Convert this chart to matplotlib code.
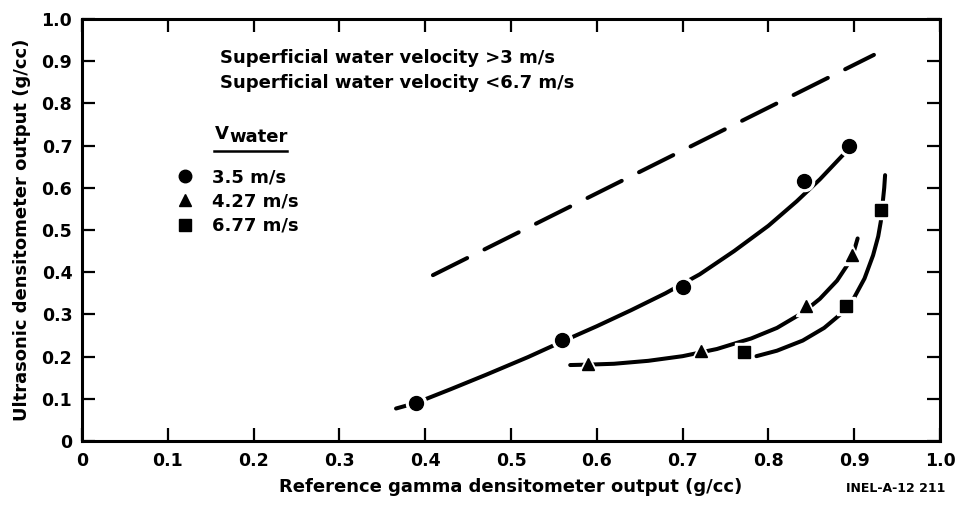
import matplotlib
matplotlib.use('Agg')
import matplotlib.pyplot as plt

circ_x = [0.389, 0.560, 0.700, 0.841, 0.894]
circ_y = [0.089, 0.239, 0.365, 0.617, 0.698]
tri_x = [0.590, 0.722, 0.844, 0.898]
tri_y = [0.183, 0.214, 0.320, 0.441]
sq_x = [0.771, 0.891, 0.931]
sq_y = [0.210, 0.320, 0.547]

# hand drawn curves through the points
circ_cx = [0.366, 0.389, 0.430, 0.471, 0.520, 0.560, 0.600, 0.640, 0.680, 0.720,
           0.760, 0.800, 0.833, 0.860, 0.887, 0.895]
circ_cy = [0.077, 0.090, 0.123, 0.157, 0.199, 0.236, 0.272, 0.310, 0.350, 0.395,
           0.450, 0.510, 0.568, 0.620, 0.678, 0.697]
tri_cx = [0.569, 0.590, 0.620, 0.660, 0.700, 0.740, 0.780, 0.810, 0.840, 0.860,
          0.880, 0.893, 0.900, 0.904]
tri_cy = [0.180, 0.181, 0.183, 0.190, 0.201, 0.218, 0.243, 0.268, 0.304, 0.337,
          0.380, 0.420, 0.452, 0.480]
sq_cx = [0.786, 0.810, 0.840, 0.865, 0.885, 0.900, 0.912, 0.922, 0.928, 0.931,
         0.933, 0.935, 0.936]
sq_cy = [0.201, 0.214, 0.238, 0.268, 0.302, 0.340, 0.385, 0.440, 0.485, 0.520,
         0.560, 0.600, 0.630]

# dashed reference line
ref_x = [0.409, 0.923]
ref_y = [0.393, 0.915]

ticks = [0, 0.1, 0.2, 0.3, 0.4, 0.5, 0.6, 0.7, 0.8, 0.9, 1.0]
tick_labels = ['0', '0.1', '0.2', '0.3', '0.4', '0.5', '0.6', '0.7', '0.8', '0.9', '1.0']

plt.rcParams['font.family'] = ['DejaVu Sans']
plt.rcParams['font.weight'] = 'bold'

fig = plt.figure(figsize=(9.63, 5.07), dpi=100)
ax = fig.add_axes([82 / 963, 1 - 441 / 507, 858 / 963, 422 / 507])

lw = 2.9
ax.plot(ref_x, ref_y, color='black', lw=lw, linestyle=(0, (9.5, 4.8)),
        dash_capstyle='round')
for cx, cy in [(circ_cx, circ_cy), (tri_cx, tri_cy), (sq_cx, sq_cy)]:
    ax.plot(cx, cy, color='black', lw=lw, solid_capstyle='round',
            solid_joinstyle='round')

# white halos break the curves around the markers
ax.plot(circ_x, circ_y, 'o', color='white', ms=14.5, zorder=3)
ax.plot(tri_x, tri_y, '^', color='white', ms=14.5, zorder=3)
ax.plot(sq_x, sq_y, 's', color='white', ms=13, zorder=3)
ax.plot(circ_x, circ_y, 'o', color='black', ms=10, zorder=4, label='3.5 m/s')
ax.plot(tri_x, tri_y, '^', color='black', ms=9, zorder=4, label='4.27 m/s')
ax.plot(sq_x, sq_y, 's', color='black', ms=9, zorder=4, label='6.77 m/s')

ax.set_xlim(0, 1.0)
ax.set_ylim(0, 1.0)
ax.set_xticks(ticks)
ax.set_xticklabels(tick_labels)
ax.set_yticks(ticks)
ax.set_yticklabels(tick_labels)
ax.tick_params(direction='in', length=9.5, width=1.6, top=True, right=True,
               labelsize=12.5)
ax.tick_params(axis='x', pad=8)
ax.tick_params(axis='y', pad=7)
for s in ax.spines.values():
    s.set_linewidth(2.2)

ax.set_xlabel('Reference gamma densitometer output (g/cc)', fontsize=13, fontweight='bold')
ax.set_ylabel('Ultrasonic densitometer output (g/cc)', fontsize=13, fontweight='bold')
ax.xaxis.set_label_coords(0.5, -0.088)
ax.yaxis.set_label_coords(-0.06, 0.5)

ax.text(0.161, 0.908, 'Superficial water velocity >3 m/s', fontsize=13,
        fontweight='bold', va='center', ha='left')
ax.text(0.161, 0.848, 'Superficial water velocity <6.7 m/s', fontsize=13,
        fontweight='bold', va='center', ha='left')

ax.text(0.155, 0.716, 'V', fontsize=13, fontweight='bold', va='baseline', ha='left')
ax.text(0.172, 0.709, 'water', fontsize=13, fontweight='bold', va='baseline', ha='left')
ax.plot([0.154, 0.239], [0.687, 0.687], color='black', lw=1.8, clip_on=False)

ax.legend(loc='center left', bbox_to_anchor=(0.1096, 0.5675), frameon=False,
          fontsize=13, handlelength=1.0, handletextpad=1.0, labelspacing=0.35,
          borderpad=0, borderaxespad=0, markerscale=0.9)

fig.text(945 / 963, 1 - 488 / 507, 'INEL-A-12 211', fontsize=9, fontweight='bold',
         ha='right', va='center')

fig.savefig('out.png', dpi=100)
